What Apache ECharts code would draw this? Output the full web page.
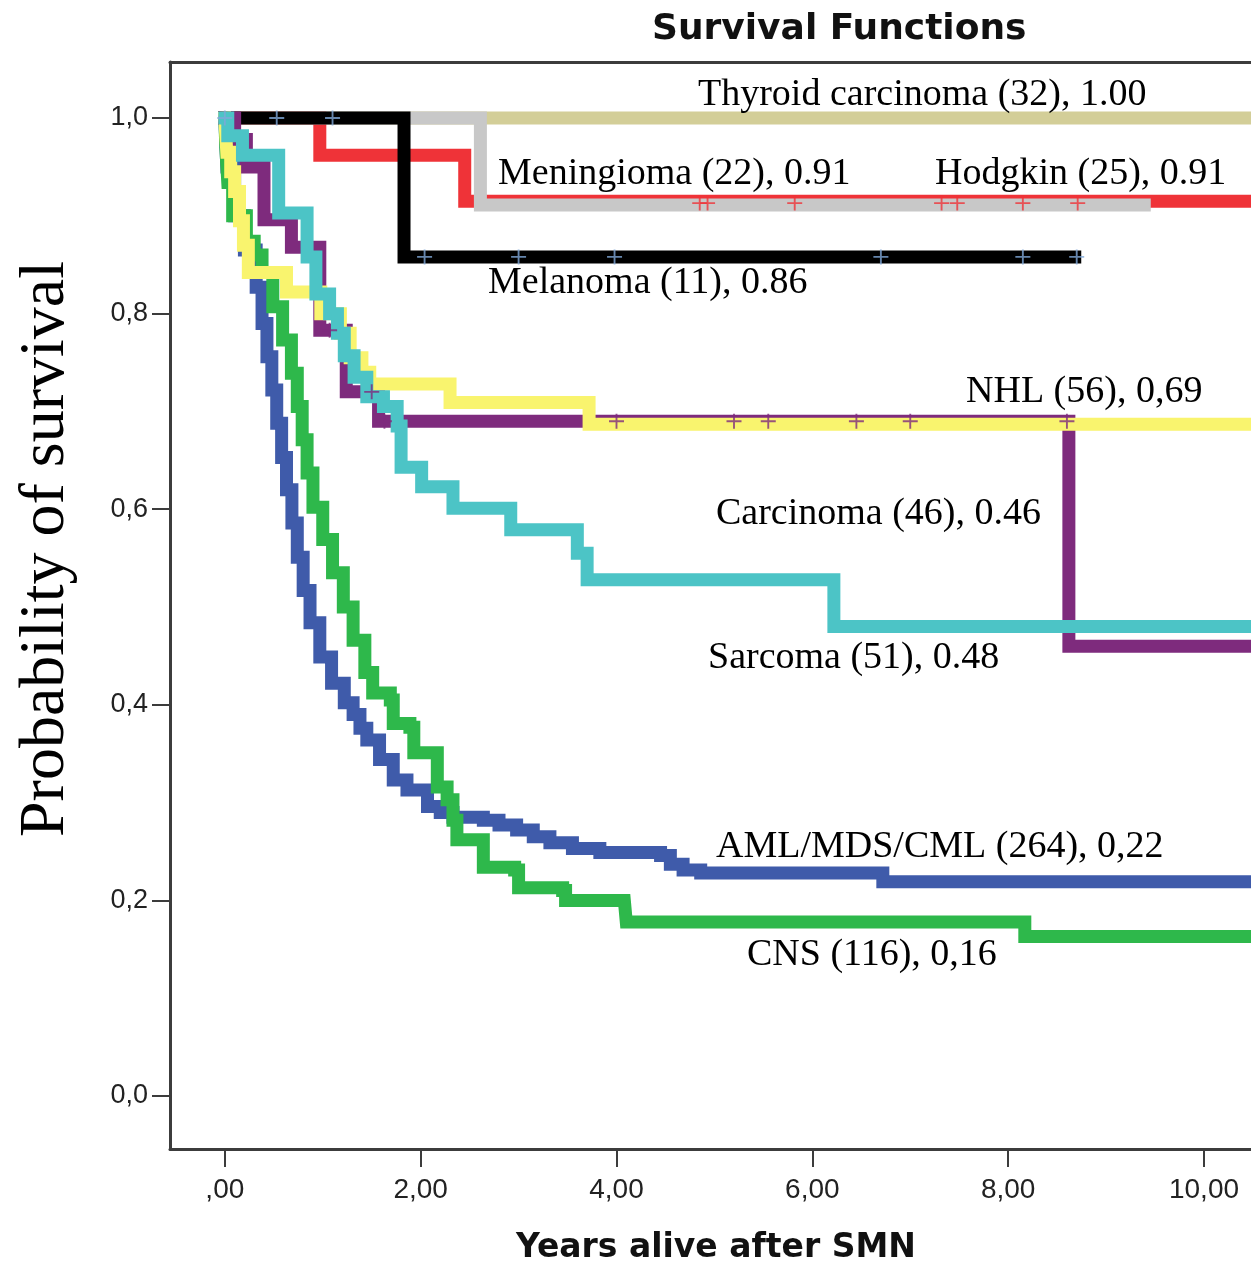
<!DOCTYPE html>
<html lang="en">
<head>
    <meta charset="UTF-8">
    <title>Survival Functions</title>
    <script src="https://cdn.jsdelivr.net/npm/echarts@6/dist/echarts.min.js"></script>
    <style>
        html, body { margin: 0; padding: 0; background: #fff; }
        #chart-container { width: 1251px; height: 1266px; }
    </style>
</head>
<body>
    <div id="chart-container"></div>

    <script>
        // axis ticks
        const xTickValues = [0, 2, 4, 6, 8, 10];
        const xTickLabels = [',00', '2,00', '4,00', '6,00', '8,00', '10,00'];
        const yTickValues = [0, 0.2, 0.4, 0.6, 0.8, 1.0];
        const yTickLabels = ['0,0', '0,2', '0,4', '0,6', '0,8', '1,0'];

        // Kaplan-Meier steps: [years, survival after the drop]
        const amlData = [[0, 1], [0.02, 0.95], [0.1, 0.9], [0.2, 0.865], [0.32, 0.827], [0.38, 0.79], [0.43, 0.756], [0.48, 0.722],
            [0.53, 0.688], [0.58, 0.653], [0.63, 0.62], [0.685, 0.586], [0.74, 0.551], [0.8, 0.517], [0.87, 0.484], [0.97, 0.449],
            [1.09, 0.422], [1.22, 0.402], [1.31, 0.39], [1.38, 0.376], [1.45, 0.364], [1.58, 0.344], [1.72, 0.323], [1.86, 0.313],
            [2.07, 0.296], [2.2, 0.29], [2.33, 0.285], [2.64, 0.282], [2.8, 0.277], [2.98, 0.272], [3.15, 0.265], [3.32, 0.259],
            [3.55, 0.253], [3.83, 0.249], [4.45, 0.246], [4.55, 0.237], [4.68, 0.231], [4.86, 0.228], [6.72, 0.219], [10.6, 0.219]];
        const cnsData = [[0, 1], [0.01, 0.97], [0.03, 0.934], [0.08, 0.9], [0.22, 0.874], [0.3, 0.86], [0.38, 0.842], [0.49, 0.807],
            [0.59, 0.773], [0.68, 0.739], [0.74, 0.705], [0.79, 0.671], [0.84, 0.637], [0.9, 0.602], [1.0, 0.569], [1.1, 0.535],
            [1.21, 0.5], [1.31, 0.466], [1.43, 0.433], [1.51, 0.412], [1.69, 0.405], [1.72, 0.381], [1.89, 0.377], [1.93, 0.351],
            [2.17, 0.316], [2.27, 0.303], [2.33, 0.282], [2.37, 0.262], [2.64, 0.234], [2.96, 0.231], [3.0, 0.213], [3.45, 0.21],
            [3.48, 0.2], [4.08, 0.198], [4.1, 0.178], [8.17, 0.163], [10.6, 0.163]];
        const thyroidData = [[0, 1], [10.6, 1]];
        const hodgkinData = [[0, 1], [0.97, 0.962], [2.45, 0.915], [10.6, 0.915]];
        const meningiomaData = [[0, 1], [2.61, 0.911], [9.39, 0.911]];
        const melanomaData = [[0, 1], [1.83, 0.858], [8.68, 0.858]];
        const carcinomaData = [[0, 1], [0.1, 0.978], [0.22, 0.95], [0.4, 0.896], [0.68, 0.868], [0.97, 0.783], [1.24, 0.72],
            [1.57, 0.69], [8.62, 0.46], [10.6, 0.46]];
        const nhlData = [[0, 1], [0.02, 0.965], [0.06, 0.945], [0.1, 0.925], [0.15, 0.895], [0.19, 0.87], [0.24, 0.842],
            [0.63, 0.822], [0.98, 0.8], [1.18, 0.78], [1.28, 0.755], [1.4, 0.74], [1.48, 0.728], [2.3, 0.709], [3.72, 0.687],
            [10.6, 0.687]];
        const sarcomaData = [[0, 1], [0.03, 0.982], [0.18, 0.962], [0.55, 0.903], [0.84, 0.858], [0.93, 0.82], [1.07, 0.8],
            [1.15, 0.78], [1.22, 0.757], [1.32, 0.735], [1.45, 0.715], [1.62, 0.705], [1.76, 0.685], [1.8, 0.643], [2.01, 0.623],
            [2.33, 0.601], [2.92, 0.579], [3.6, 0.555], [3.7, 0.528], [6.22, 0.48], [10.6, 0.48]];

        // censored cases (+ marks)
        const melanomaCensor = [[0.0, 1], [0.53, 1], [1.1, 1], [2.04, 0.858], [3.0, 0.858], [3.98, 0.858], [6.7, 0.858], [8.15, 0.858], [8.7, 0.858]];
        const hodgkinCensor = [[4.85, 0.913], [4.93, 0.913], [5.82, 0.913], [7.32, 0.913], [7.48, 0.913], [8.15, 0.913], [8.71, 0.913]];
        const carcinomaCensor = [[1.07, 0.783], [1.5, 0.72], [1.63, 0.69], [4.0, 0.69], [5.2, 0.69], [5.55, 0.69], [6.45, 0.69], [7.0, 0.69], [8.6, 0.69]];

        const curveLabels = [
            { text: 'Thyroid carcinoma (32), 1.00', x: 698, y: 95 },
            { text: 'Meningioma (22), 0.91', x: 498, y: 174 },
            { text: 'Hodgkin (25), 0.91', x: 935, y: 174 },
            { text: 'Melanoma (11), 0.86', x: 488, y: 283 },
            { text: 'NHL (56), 0,69', x: 966, y: 392 },
            { text: 'Carcinoma (46), 0.46', x: 716, y: 514 },
            { text: 'Sarcoma (51), 0.48', x: 708, y: 658 },
            { text: 'AML/MDS/CML (264), 0,22', x: 716, y: 847 },
            { text: 'CNS (116), 0,16', x: 747, y: 955 }
        ];

        const plusSymbol = 'path://M7,0H9V7H16V9H9V16H7V9H0V7H7Z';
        const frameColor = '#3c3c3c';

        function kmLine(name, data, color) {
            return {
                name: name, type: 'line', step: 'end', data: data,
                showSymbol: false, symbol: 'none',
                lineStyle: { color: color, width: 13, cap: 'square', join: 'miter' },
                emphasis: { disabled: true }
            };
        }

        function censor(name, data, color) {
            return {
                name: name, type: 'scatter', data: data, symbol: plusSymbol, symbolSize: 15,
                itemStyle: { color: color }, z: 5
            };
        }

        const myChart = echarts.init(document.getElementById('chart-container'));

        const option = {
            animation: false,
            title: {
                text: 'Survival Functions',
                left: 652, top: 12, padding: 0,
                textStyle: { fontFamily: 'DejaVu Sans', fontWeight: 'bold', fontSize: 36, color: '#111' }
            },
            grid: { left: 170, top: 62, right: 0, bottom: 117 },
            xAxis: [{
                type: 'value', min: -0.56, max: 10.48, position: 'bottom',
                axisLine: { show: true, onZero: false, lineStyle: { color: frameColor, width: 3 } },
                splitLine: { show: false },
                axisTick: { show: true, customValues: xTickValues, length: 18, lineStyle: { color: frameColor, width: 2 } },
                axisLabel: {
                    customValues: xTickValues, margin: 27,
                    fontFamily: 'Liberation Sans', fontSize: 28, color: '#222',
                    formatter: function (v) { return xTickLabels[xTickValues.indexOf(v)]; }
                }
            }, {
                // top frame line only
                type: 'value', min: -0.56, max: 10.48, position: 'top',
                axisLine: { show: true, onZero: false, lineStyle: { color: frameColor, width: 3 } },
                axisTick: { show: false }, axisLabel: { show: false }, splitLine: { show: false }
            }],
            yAxis: {
                type: 'value', min: -0.0542, max: 1.0573,
                axisLine: { show: true, onZero: false, lineStyle: { color: frameColor, width: 3 } },
                splitLine: { show: false },
                axisTick: { show: true, customValues: yTickValues, length: 18, lineStyle: { color: frameColor, width: 2 } },
                axisLabel: {
                    customValues: yTickValues, margin: 22,
                    fontFamily: 'Liberation Sans', fontSize: 27, color: '#222',
                    formatter: function (v) {
                        const i = yTickValues.findIndex(t => Math.abs(t - v) < 1e-6);
                        return yTickLabels[i];
                    }
                }
            },
            graphic: [
                {
                    type: 'text', x: 716, y: 1248,
                    style: { text: 'Years alive after SMN', fontFamily: 'DejaVu Sans', fontWeight: 'bold', fontSize: 33,
                        fill: '#111', align: 'center', verticalAlign: 'middle' }
                },
                {
                    type: 'text', x: 46, y: 549, rotation: Math.PI / 2,
                    style: { text: 'Probability of survival', fontFamily: 'Liberation Serif', fontSize: 64,
                        fill: '#000', align: 'center', verticalAlign: 'middle' }
                }
            ].concat(curveLabels.map(l => ({
                type: 'text', x: l.x, y: l.y, z: 100,
                style: { text: l.text, fontFamily: 'Liberation Serif', fontSize: 38, fill: '#000',
                    align: 'left', verticalAlign: 'middle' }
            }))),
            series: [
                kmLine('AML/MDS/CML', amlData, '#3f5baa'),
                kmLine('CNS', cnsData, '#2eb84b'),
                kmLine('Thyroid carcinoma', thyroidData, '#d3ce98'),
                kmLine('Hodgkin', hodgkinData, '#ef3338'),
                kmLine('Meningioma', meningiomaData, '#c8c8c8'),
                kmLine('Melanoma', melanomaData, '#000000'),
                kmLine('Carcinoma', carcinomaData, '#7e2b7d'),
                kmLine('NHL', nhlData, '#f9f46e'),
                kmLine('Sarcoma', sarcomaData, '#4cc4c6'),
                censor('Melanoma censored', melanomaCensor, '#80a8d8'),
                censor('Hodgkin censored', hodgkinCensor, '#ef3338'),
                censor('Carcinoma censored', carcinomaCensor, '#7e2b7d')
            ]
        };

        myChart.setOption(option);
    </script>
</body>
</html>
